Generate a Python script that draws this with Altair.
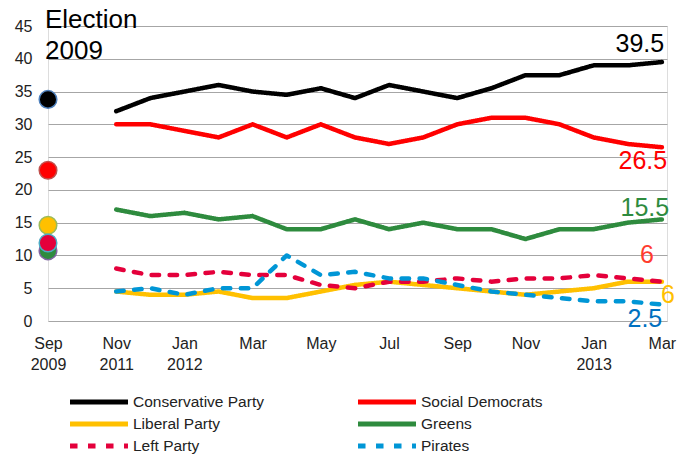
import altair as alt
import pandas as pd

# ---------------- data ----------------
parties = ["Conservative Party", "Social Democrats", "Liberal Party",
           "Greens", "Left Party", "Pirates"]
# x positions: election at -2, monthly polls Nov 2011 .. Mar 2013 at 0..16
election_x = -2
poll_x = list(range(17))
tick_values = [-2, 0, 2, 4, 6, 8, 10, 12, 14, 16]
tick_labels = [["Sep", "2009"], ["Nov", "2011"], ["Jan", "2012"], ["Mar"], ["May"],
               ["Jul"], ["Sep"], ["Nov"], ["Jan", "2013"], ["Mar"]]
y_ticks = [0, 5, 10, 15, 20, 25, 30, 35, 40, 45]

conservative = [32, 34, 35, 36, 35, 34.5, 35.5, 34, 36, 35, 34, 35.5, 37.5, 37.5, 39, 39, 39.5]
social_dem = [30, 30, 29, 28, 30, 28, 30, 28, 27, 28, 30, 31, 31, 30, 28, 27, 26.5]
liberal = [4.5, 4, 4, 4.5, 3.5, 3.5, 4.5, 5.5, 6, 5.5, 5, 4.5, 4, 4.5, 5, 6, 6]
greens = [17, 16, 16.5, 15.5, 16, 14, 14, 15.5, 14, 15, 14, 14, 12.5, 14, 14, 15, 15.5]
left = [8, 7, 7, 7.5, 7, 7, 5.5, 5, 6, 6, 6.5, 6, 6.5, 6.5, 7, 6.5, 6]
pirates = [4.5, 5, 4, 5, 5, 10, 7, 7.5, 6.5, 6.5, 5.5, 4.5, 4, 3.5, 3, 3, 2.5]
series = [conservative, social_dem, liberal, greens, left, pirates]

election_parties = ["Conservative Party", "Social Democrats", "Liberal Party", "Greens", "Left Party"]
election_values = [33.8, 23.0, 14.6, 10.7, 11.9]

# end-of-line labels, in the order of `parties`
final_labels = ["39.5", "26.5", "6", "15.5", "6", "2.5"]
title_text = "Election\n2009"

# ---------------- styles ----------------
line_colors = ["#000000", "#ff0000", "#ffc000", "#2e8b3e", "#e4003b", "#0096d6"]
outline_colors = ["#4f81bd", "#c0504d", "#9bbb59", "#8064a2", "#4bacc6", "#f79646"]
dashes = [[1, 0], [1, 0], [1, 0], [1, 0], [7.5, 10.5], [7.5, 10.5]]
label_colors = ["#000000", "#ff0000", "#ffc000", "#2e8b3e", "#ff3b2f", "#0070c0"]
label_offsets = [(-22, -18), (-19, 14), (6, 13), (-17, -11), (-15, -27), (-17, 14)]
FONT = "Liberation Sans"

# ---------------- tables ----------------
rows = []
for p, vals in zip(parties, series):
    for x, v in zip(poll_x, vals):
        rows.append({"party": p, "x": x, "value": v})
df = pd.DataFrame(rows)

df_elec = pd.DataFrame({"party": election_parties,
                        "x": [election_x] * len(election_parties),
                        "value": election_values})

x_scale = alt.Scale(domain=[-2, 16.15], nice=False, zero=False)
y_scale = alt.Scale(domain=[0, 45], nice=False)

label_expr = "[" + ",".join(
    "[" + ",".join("'" + s + "'" for s in lab) + "]" for lab in tick_labels
) + "][(datum.value + 2) / 2]"

x_axis = alt.Axis(values=tick_values, labelExpr=label_expr, grid=False, domain=False,
                  ticks=False, labelFont=FONT, labelFontSize=16, labelColor="#222222",
                  labelPadding=14, labelLineHeight=21, title=None, labelFlush=False,
                  labelOverlap=False)
y_axis = alt.Axis(values=y_ticks, grid=True, gridColor="#a6a6a6",
                  gridWidth=1.2, domain=False, ticks=False, labelFont=FONT,
                  labelFontSize=16, labelColor="#222222", labelPadding=16, title=None,
                  labelOverlap=False)

X = alt.X("x:Q", scale=x_scale, axis=x_axis)
Y = alt.Y("value:Q", scale=y_scale, axis=y_axis)

legend_cfg = dict(title=None, orient="none", legendX=41, legendY=366, columns=2,
                  direction="horizontal", columnPadding=84, rowPadding=2,
                  symbolType="M-4,0H4", symbolSize=210, symbolStrokeWidth=5,
                  labelFont=FONT, labelFontSize=15.5, labelColor="#222222",
                  labelOffset=24, labelLimit=400)

lines = alt.Chart(df).mark_line(strokeWidth=4.5, strokeCap="round", strokeJoin="round").encode(
    x=X, y=Y,
    color=alt.Color("party:N", scale=alt.Scale(domain=parties, range=line_colors),
                    sort=parties, legend=alt.Legend(**legend_cfg)),
    strokeDash=alt.StrokeDash("party:N", scale=alt.Scale(domain=parties, range=dashes),
                              sort=parties, legend=alt.Legend(**legend_cfg)),
)

dots = alt.Chart(df_elec).mark_point(filled=True, size=310, strokeWidth=1.5, opacity=1).encode(
    x=X, y=Y,
    fill=alt.Fill("party:N", scale=alt.Scale(domain=parties, range=line_colors), legend=None),
    stroke=alt.Stroke("party:N", scale=alt.Scale(domain=parties, range=outline_colors), legend=None),
)

layers = [lines, dots]

for p, vals, lab, col, (dx, dy) in zip(parties, series, final_labels, label_colors, label_offsets):
    d = pd.DataFrame({"x": [poll_x[-1]], "value": [vals[-1]], "label": [lab]})
    layers.append(
        alt.Chart(d).mark_text(font=FONT, fontSize=25, color=col, dx=dx, dy=dy,
                               align="center", baseline="middle").encode(
            x=X, y=Y, text="label:N",
        )
    )

title_df = pd.DataFrame({"x": [election_x], "value": [45], "label": [title_text]})
layers.append(
    alt.Chart(title_df).mark_text(font=FONT, fontSize=26, color="#000000", align="left",
                                  baseline="top", dx=-3, dy=-19, lineBreak="\n",
                                  lineHeight=31).encode(
        x=X, y=Y, text="label:N",
    )
)

chart = alt.layer(*layers).properties(
    width=619, height=295,
    autosize=alt.AutoSizeParams(type="none"),
    padding={"left": 40, "top": 18, "right": 10, "bottom": 136},
).configure_view(stroke=None).configure(background="white")

chart.save("out.html", embed_options={"renderer": "svg", "actions": False})
